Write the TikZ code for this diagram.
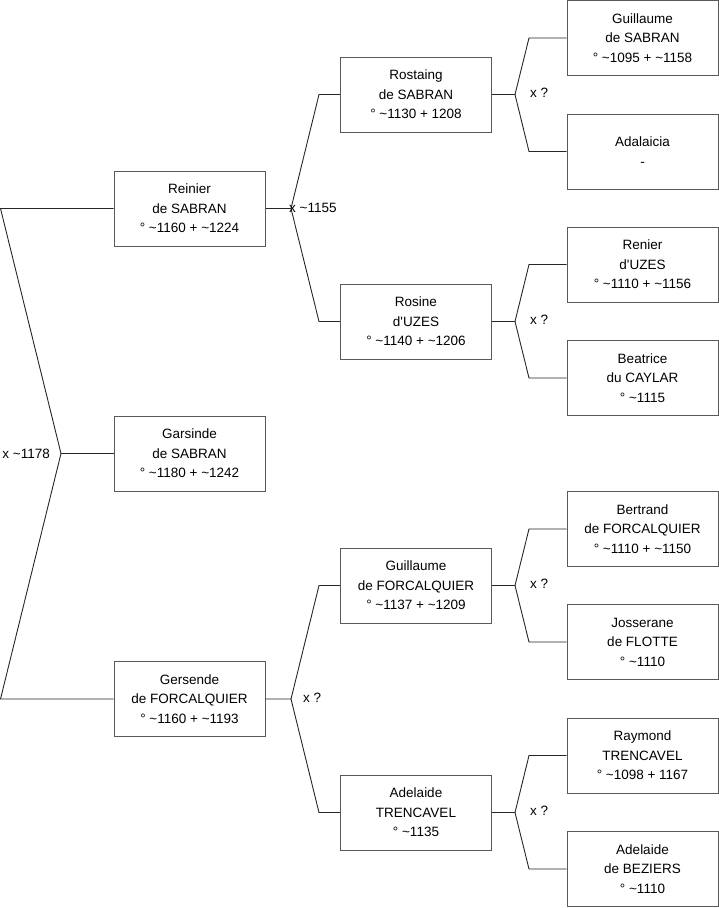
\documentclass[tikz,border=0pt]{standalone}
\usepackage{fontspec}
\setmainfont{Liberation Sans}
\newcommand{\tl}{\textasciitilde}
\begin{document}
\begin{tikzpicture}[x=1pt,y=-1pt,
 person/.style={draw=black!65, line width=1pt, minimum width=151pt, minimum height=75pt, inner sep=0pt, align=center, font=\fontsize{13.5}{19.5}\selectfont, fill=white},
 link/.style={draw=black!85, line width=0.9pt, line join=miter},
 lbl/.style={inner sep=0pt, font=\fontsize{13.5}{16}\selectfont}]
\useasboundingbox (0,0) rectangle (719,908);
% column 1
\node[person] (rei) at (189.5,208.5) {Reinier\\de SABRAN\\° \tl1160 + \tl1224};
\node[person] (gar) at (189.5,453.5) {Garsinde\\de SABRAN\\° \tl1180 + \tl1242};
\node[person] (ger) at (189.5,699) {Gersende\\de FORCALQUIER\\° \tl1160 + \tl1193};
% column 2
\node[person] (ros) at (416,94.5) {Rostaing\\de SABRAN\\° \tl1130 + 1208};
\node[person] (rsn) at (416,321.5) {Rosine\\d\textquotesingle UZES\\° \tl1140 + \tl1206};
\node[person] (guf) at (416,585.5) {Guillaume\\de FORCALQUIER\\° \tl1137 + \tl1209};
\node[person] (adt) at (416,812.5) {Adelaide\\TRENCAVEL\\° \tl1135};
% column 3
\node[person] (gus) at (642.5,38) {Guillaume\\de SABRAN\\° \tl1095 + \tl1158};
\node[person] (ada) at (642.5,151.5) {Adalaicia\\-};
\node[person] (ren) at (642.5,264.5) {Renier\\d\textquotesingle UZES\\° \tl1110 + \tl1156};
\node[person] (bea) at (642.5,378) {Beatrice\\du CAYLAR\\° \tl1115};
\node[person] (ber) at (642.5,529) {Bertrand\\de FORCALQUIER\\° \tl1110 + \tl1150};
\node[person] (jos) at (642.5,642) {Josserane\\de FLOTTE\\° \tl1110};
\node[person] (ray) at (642.5,755.5) {Raymond\\TRENCAVEL\\° \tl1098 + 1167};
\node[person] (adb) at (642.5,869) {Adelaide\\de BEZIERS\\° \tl1110};
% left bracket
\coordinate (l1) at (0.5,208.5);
\coordinate (l2) at (61,453.5);
\coordinate (l3) at (0.5,699);
\draw[link] (rei.west) -- (l1) -- (l2) -- (l3) -- (ger.west);
\draw[link] (l2) -- (gar.west);
\node[lbl, anchor=east] (m0) at (50,453.5) {x \tl1178};
% Reinier
\coordinate (vr) at (291,208.5);
\coordinate (vra) at (319,94.5);
\coordinate (vrb) at (319,321.5);
\draw[link] (rei.east) -- (vr) -- (vra) -- (ros.west);
\draw[link] (vr) -- (vrb) -- (rsn.west);
\node[lbl, anchor=west] (m1) at (289,208) {x \tl1155};
% Gersende
\coordinate (vg) at (291,699);
\coordinate (vga) at (319,585.5);
\coordinate (vgb) at (319,812.5);
\draw[link] (ger.east) -- (vg) -- (vga) -- (guf.west);
\draw[link] (vg) -- (vgb) -- (adt.west);
\node[lbl, anchor=west] (m2) at (303,698) {x ?};
% Rostaing
\coordinate (v1) at (515,94.5);
\coordinate (v1a) at (529,38);
\coordinate (v1b) at (529,151.5);
\draw[link] (ros.east) -- (v1) -- (v1a) -- (gus.west);
\draw[link] (v1) -- (v1b) -- (ada.west);
\node[lbl, anchor=west] (m3) at (530,93) {x ?};
% Rosine
\coordinate (v2) at (515,321.5);
\coordinate (v2a) at (529,264.5);
\coordinate (v2b) at (529,378);
\draw[link] (rsn.east) -- (v2) -- (v2a) -- (ren.west);
\draw[link] (v2) -- (v2b) -- (bea.west);
\node[lbl, anchor=west] (m4) at (530,320) {x ?};
% Guillaume de Forcalquier
\coordinate (v3) at (515,585.5);
\coordinate (v3a) at (529,529);
\coordinate (v3b) at (529,642);
\draw[link] (guf.east) -- (v3) -- (v3a) -- (ber.west);
\draw[link] (v3) -- (v3b) -- (jos.west);
\node[lbl, anchor=west] (m5) at (530,584) {x ?};
% Adelaide Trencavel
\coordinate (v4) at (515,812.5);
\coordinate (v4a) at (529,755.5);
\coordinate (v4b) at (529,869);
\draw[link] (adt.east) -- (v4) -- (v4a) -- (ray.west);
\draw[link] (v4) -- (v4b) -- (adb.west);
\node[lbl, anchor=west] (m6) at (530,811) {x ?};
\end{tikzpicture}
\end{document}
